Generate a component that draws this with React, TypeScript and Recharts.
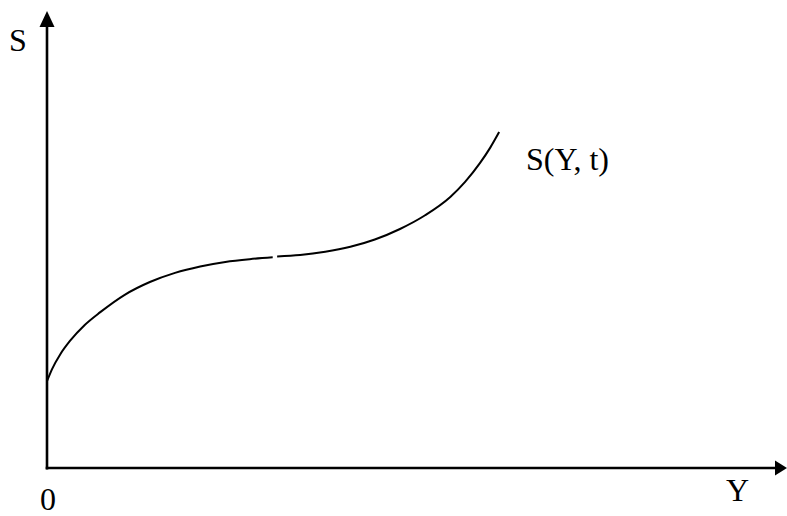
import React from "react";
import { LineChart, Line, XAxis, YAxis, ReferenceLine } from "recharts";

// Two pieces of the curve S(Y, t) (the reference draws it with a tiny break)
const segmentOne = [
  { x: 0, y: 1.9 },
  { x: 0.07, y: 2.17 },
  { x: 0.18, y: 2.49 },
  { x: 0.31, y: 2.78 },
  { x: 0.51, y: 3.13 },
  { x: 0.72, y: 3.41 },
  { x: 1.05, y: 3.79 },
  { x: 1.39, y: 4.07 },
  { x: 1.73, y: 4.27 },
  { x: 2.07, y: 4.41 },
  { x: 2.41, y: 4.51 },
  { x: 2.74, y: 4.57 },
  { x: 3.05, y: 4.61 },
];
const segmentTwo = [
  { x: 3.11, y: 4.63 },
  { x: 3.42, y: 4.66 },
  { x: 3.76, y: 4.73 },
  { x: 4.1, y: 4.84 },
  { x: 4.43, y: 5.0 },
  { x: 4.77, y: 5.23 },
  { x: 5.11, y: 5.53 },
  { x: 5.45, y: 5.93 },
  { x: 5.65, y: 6.26 },
  { x: 5.85, y: 6.67 },
  { x: 5.99, y: 7.01 },
  { x: 6.11, y: 7.35 },
];
const xDomain: [number, number] = [0, 10];
const yDomain: [number, number] = [0, 10];
const yAxisLabel = "S";
const xAxisLabel = "Y";
const originLabel = "0";
const curveLabel = "S(Y, t)";

const FONT = "'Liberation Serif', 'Times New Roman', serif";

const ArrowY = (p: any) => {
  const { x1, y1, y2 } = p;
  const top = Math.min(y1, y2);
  const bottom = Math.max(y1, y2);
  return (
    <g>
      <line x1={x1} y1={bottom + 1.5} x2={x1} y2={top + 12} stroke="#000" strokeWidth={2.6} />
      <polygon points={`${x1},${top} ${x1 - 7.5},${top + 16} ${x1 + 7.5},${top + 16}`} fill="#000" />
    </g>
  );
};

const ArrowX = (p: any) => {
  const { x1, y1, x2 } = p;
  const left = Math.min(x1, x2);
  const right = Math.max(x1, x2);
  return (
    <g>
      <line x1={left - 1.3} y1={y1} x2={right - 10} y2={y1} stroke="#000" strokeWidth={2.6} />
      <polygon points={`${right},${y1} ${right - 12},${y1 - 7.5} ${right - 12},${y1 + 7.5}`} fill="#000" />
    </g>
  );
};

export default function App() {
  return (
    <div style={{ position: "absolute", left: 0, top: 0, width: 787, height: 516, background: "#fff" }}>
      <LineChart
        width={787}
        height={516}
        margin={{ top: 11, right: 0, bottom: 48, left: 47 }}
        style={{ position: "absolute", left: 0, top: 0 }}
      >
        <XAxis type="number" dataKey="x" domain={xDomain} hide allowDataOverflow />
        <YAxis type="number" dataKey="y" domain={yDomain} hide allowDataOverflow />
        <ReferenceLine
          segment={[{ x: 0, y: 0 }, { x: 0, y: 10 }]}
          ifOverflow="visible"
          shape={ArrowY}
        />
        <ReferenceLine
          segment={[{ x: 0, y: 0 }, { x: 10, y: 0 }]}
          ifOverflow="visible"
          shape={ArrowX}
        />
        <Line
          data={segmentOne}
          dataKey="y"
          type="monotone"
          stroke="#000"
          strokeWidth={2}
          dot={false}
          activeDot={false}
          isAnimationActive={false}
        />
        <Line
          data={segmentTwo}
          dataKey="y"
          type="monotone"
          stroke="#000"
          strokeWidth={2}
          dot={false}
          activeDot={false}
          isAnimationActive={false}
        />
      </LineChart>
      <svg
        width={787}
        height={516}
        style={{ position: "absolute", left: 0, top: 0, pointerEvents: "none" }}
      >
        <text x={9} y={51} fontFamily={FONT} fontSize={32} fill="#000">{yAxisLabel}</text>
        <text x={40} y={510} fontFamily={FONT} fontSize={32} fill="#000">{originLabel}</text>
        <text x={726} y={501} fontFamily={FONT} fontSize={32} fill="#000">{xAxisLabel}</text>
        <text x={526} y={170} fontFamily={FONT} fontSize={32} fill="#000">{curveLabel}</text>
      </svg>
    </div>
  );
}
